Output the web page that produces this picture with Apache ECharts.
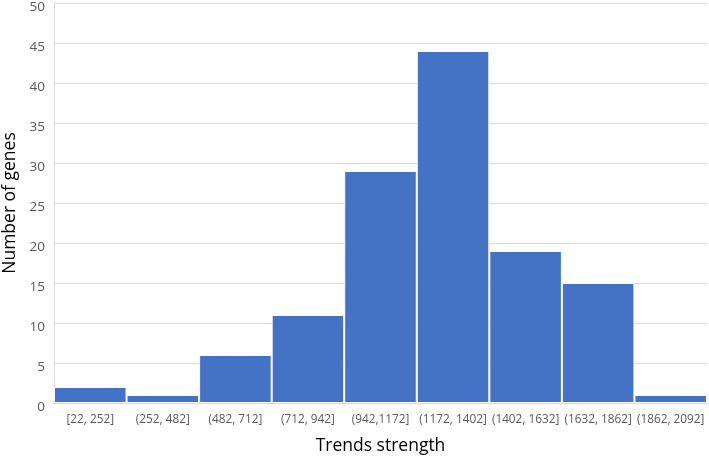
<!DOCTYPE html>
<html>
<head>
<meta charset="utf-8">
<script src="https://cdn.jsdelivr.net/npm/echarts@6/dist/echarts.min.js"></script>
<style>
  html, body { margin: 0; padding: 0; background: #fff; }
  #hist_chart { width: 709px; height: 457px; }
</style>
</head>
<body>
<div id="hist_chart"></div>
<script>
var bins = ['[22, 252]', '(252, 482]', '(482, 712]', '(712, 942]', '(942,1172]',
            '(1172, 1402]', '(1402, 1632]', '(1632, 1862]', '(1862, 2092]'];
var geneCounts = [2, 1, 6, 11, 29, 44, 19, 15, 1];
var yMax = 50;
var yStep = 5;

var chart = echarts.init(document.getElementById('hist_chart'));
var font = '"Open Sans", sans-serif';

var option = {
    animation: false,
    grid: { left: 54, right: 2, top: 3, bottom: 54, outerBoundsMode: 'none', containLabel: false },
    xAxis: {
        type: 'category',
        data: bins,
        name: 'Trends strength',
        nameLocation: 'middle',
        nameGap: 34,
        nameTextStyle: { fontFamily: font, fontSize: 17.5, color: '#000' },
        axisLine: { show: true, lineStyle: { color: '#d9d9d9' } },
        axisTick: { show: false },
        axisLabel: { fontFamily: font, fontSize: 11.8, color: '#595959', margin: 11, interval: 0 }
    },
    yAxis: {
        type: 'value',
        min: 0,
        max: yMax,
        interval: yStep,
        name: 'Number of genes',
        nameLocation: 'middle',
        nameGap: 28,
        nameTextStyle: { fontFamily: font, fontSize: 17.5, color: '#000' },
        axisLine: { show: true, lineStyle: { color: '#d9d9d9' } },
        axisTick: { show: false },
        splitLine: { lineStyle: { color: '#d9d9d9' } },
        axisLabel: { fontFamily: font, fontSize: 13.5, color: '#595959', margin: 9, verticalAlign: 'top', lineHeight: 8 }
    },
    series: [
        {
            type: 'bar',
            data: geneCounts,
            barCategoryGap: 0,
            itemStyle: { color: '#4472c4', borderColor: '#ffffff', borderWidth: 1 }
        }
    ]
};
chart.setOption(option);
</script>
</body>
</html>
